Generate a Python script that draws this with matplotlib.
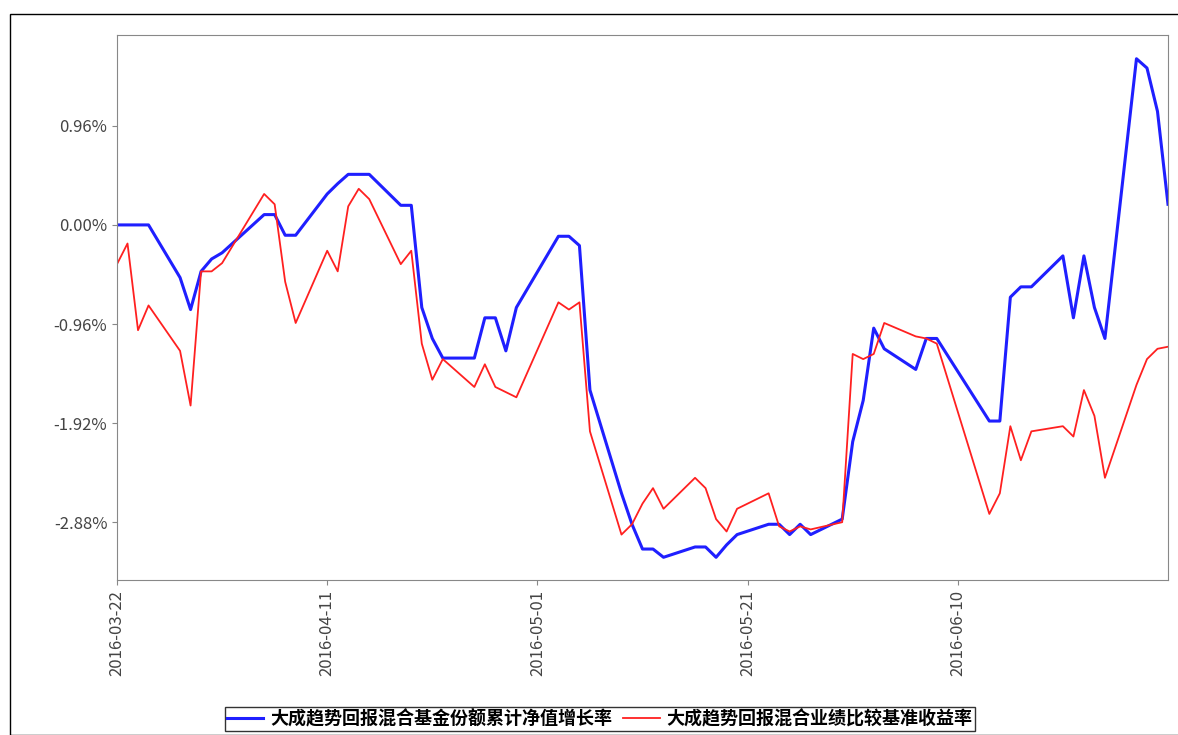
import matplotlib
matplotlib.use("Agg")
import matplotlib.pyplot as plt
import matplotlib.dates as mdates
import numpy as np
from datetime import datetime

plt.rcParams['font.family'] = ['Noto Sans CJK SC', 'DejaVu Sans']

dates = ["03-22","03-23","03-24","03-25","03-28","03-29","03-30","03-31","04-01",
         "04-05","04-06","04-07","04-08","04-11","04-12","04-13","04-14","04-15",
         "04-18","04-19","04-20","04-21","04-22","04-25","04-26","04-27","04-28","04-29",
         "05-03","05-04","05-05","05-06","05-09","05-10","05-11","05-12","05-13",
         "05-16","05-17","05-18","05-19","05-20","05-23","05-24","05-25","05-26","05-27",
         "05-30","05-31","06-01","06-02","06-03","06-06","06-07","06-08",
         "06-13","06-14","06-15","06-16","06-17","06-20","06-21","06-22","06-23","06-24",
         "06-27","06-28","06-29","06-30"]
fund = [0.00,0.00,0.00,0.00,-0.51,-0.82,-0.45,-0.33,-0.27,
        0.10,0.10,-0.10,-0.10,0.30,0.40,0.49,0.49,0.49,
        0.19,0.19,-0.80,-1.10,-1.29,-1.29,-0.90,-0.90,-1.22,-0.80,
        -0.11,-0.11,-0.20,-1.60,-2.60,-2.90,-3.14,-3.14,-3.22,
        -3.12,-3.12,-3.22,-3.10,-3.00,-2.90,-2.90,-3.00,-2.90,-3.00,
        -2.85,-2.10,-1.70,-1.00,-1.20,-1.40,-1.10,-1.10,
        -1.90,-1.90,-0.70,-0.60,-0.60,-0.30,-0.90,-0.30,-0.80,-1.10,
        1.61,1.52,1.10,0.20]
bench = [-0.38,-0.18,-1.02,-0.78,-1.22,-1.75,-0.45,-0.45,-0.37,
         0.30,0.20,-0.55,-0.95,-0.25,-0.45,0.18,0.35,0.25,
         -0.38,-0.25,-1.15,-1.50,-1.30,-1.57,-1.35,-1.57,-1.62,-1.67,
         -0.75,-0.82,-0.75,-2.00,-3.00,-2.90,-2.70,-2.55,-2.75,
         -2.45,-2.55,-2.85,-2.97,-2.75,-2.60,-2.92,-2.97,-2.92,-2.95,
         -2.88,-1.25,-1.30,-1.25,-0.95,-1.08,-1.10,-1.15,
         -2.80,-2.60,-1.95,-2.28,-2.00,-1.95,-2.05,-1.60,-1.85,-2.45,
         -1.55,-1.30,-1.20,-1.18]
x = [datetime.strptime("2016-" + d, "%Y-%m-%d") for d in dates]

fig = plt.figure(figsize=(11.78, 7.35), dpi=100)
fig.patches.append(plt.Rectangle((10/1178, 0), 1, 1 - 14/735, transform=fig.transFigure,
                                 fill=False, ec='black', lw=1))
ax = fig.add_axes([117/1178, 1 - 580/735, 1051/1178, 545/735])
l1, = ax.plot(x, fund, color='#1f1fff', lw=2.2, label='大成趋势回报混合基金份额累计净值增长率')
l2, = ax.plot(x, bench, color='#ff2020', lw=1.3, label='大成趋势回报混合业绩比较基准收益率')

ax.set_xlim(datetime(2016, 3, 22), datetime(2016, 6, 30))
ax.set_ylim(-3.44, 1.84)
ax.set_yticks([0.96, 0.0, -0.96, -1.92, -2.88])
ax.set_yticklabels(["0.96%", "0.00%", "-0.96%", "-1.92%", "-2.88%"], fontsize=12, color='#444444')
ticks = [datetime(2016, 3, 22), datetime(2016, 4, 11), datetime(2016, 5, 1),
         datetime(2016, 5, 21), datetime(2016, 6, 10)]
ax.set_xticks(ticks)
ax.set_xticklabels([t.strftime("%Y-%m-%d") for t in ticks], rotation=90, fontsize=12, color='#444444')
for s in ax.spines.values():
    s.set_color('#888888')
ax.tick_params(color='#888888')

fig.legend(handles=[l1, l2], loc='center', bbox_to_anchor=(600/1178, 1 - 719/735), ncol=2,
           frameon=True, fancybox=False, edgecolor='black', fontsize=13,
           prop={'weight': 'bold', 'size': 13},
           borderpad=0.15, handlelength=2, handletextpad=0.4, columnspacing=0.6)

fig.savefig("out.png", dpi=100)
